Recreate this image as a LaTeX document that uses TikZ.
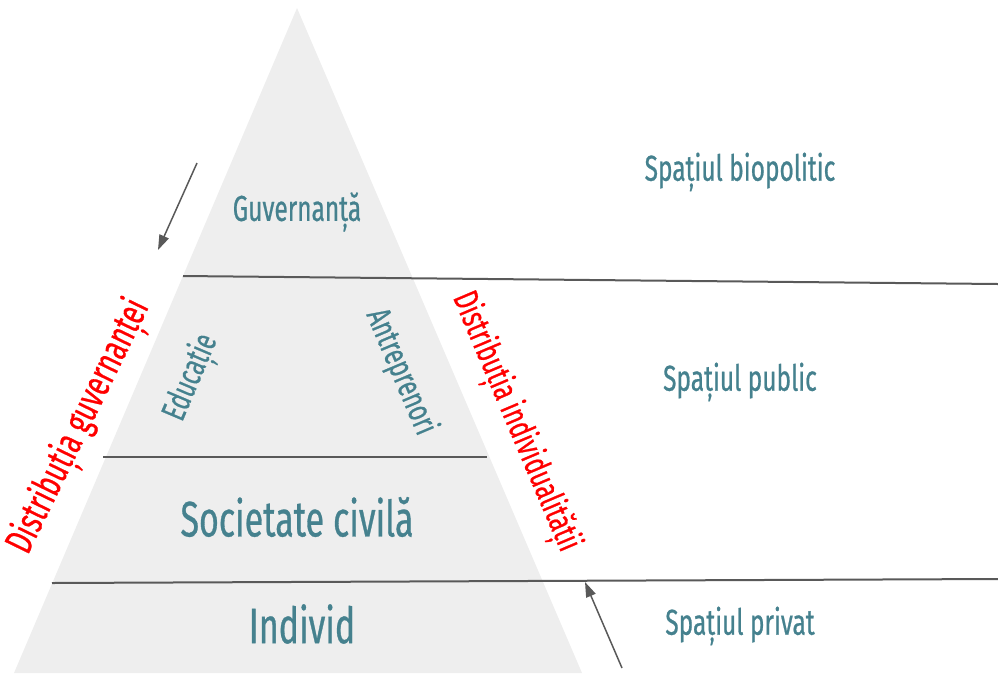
\documentclass[tikz,border=0pt]{standalone}
\usepackage{fontspec}
\usetikzlibrary{arrows.meta}
\setmainfont{Fira Sans}[FakeStretch=0.68, FakeBold=0.6]
\definecolor{textalbastru}{HTML}{45818E}
\definecolor{fundalgri}{HTML}{EEEEEE}
\definecolor{liniegri}{HTML}{595959}

\newcommand\piramida {
  \fill[fundalgri] (297, 8) -- (14, 673) -- (582, 673) -- cycle ;
  \coordinate (nivelA) at (183, 276) ;
  \coordinate (nivelAd) at (998, 284) ;
  \coordinate (nivelB) at (103, 457) ;
  \coordinate (nivelBd) at (487, 457) ;
  \coordinate (nivelC) at (52, 583) ;
  \coordinate (nivelCd) at (998, 579) ;
}

\tikzset{
  eticheta/.style={text=textalbastru, inner sep=0pt},
  distributie/.style={text=red, inner sep=0pt},
  separator/.style={liniegri, line width=2pt},
}

\begin{document}
\begin{tikzpicture}[>={Stealth[length=15pt, width=10pt, inset=0pt]}, x=1pt, y=-1pt]
  \useasboundingbox (0, 0) rectangle (998, 673) ;
  \piramida
  \draw[separator] (nivelA) -- (nivelAd) ;
  \draw[separator] (nivelB) -- (nivelBd) ;
  \draw[separator] (nivelC) -- (nivelCd) ;

  \node[eticheta] (guvernanta) at (297, 212) {\fontsize{36}{40}\selectfont Guvernanță} ;
  \node[eticheta, rotate=67] (educatie) at (192, 378) {\fontsize{34}{40}\selectfont Educație} ;
  \node[eticheta, rotate=-67] (antreprenori) at (401, 372) {\fontsize{34}{40}\selectfont Antreprenori} ;
  \node[eticheta] (societate) at (297, 517) {\fontsize{50}{54}\selectfont Societate civilă} ;
  \node[eticheta] (individ) at (302, 624) {\fontsize{50}{54}\selectfont Individ} ;

  \node[eticheta] (biopolitic) at (740, 172) {\fontsize{36}{40}\selectfont Spațiul biopolitic} ;
  \node[eticheta] (public) at (740, 382) {\fontsize{36}{40}\selectfont Spațiul public} ;
  \node[eticheta] (privat) at (740, 626) {\fontsize{36}{40}\selectfont Spațiul privat} ;

  \node[distributie, rotate=64] (distguv) at (80, 427) {\fontsize{39}{40}\selectfont Distribuția guvernanței} ;
  \node[distributie, rotate=-67] (distind) at (515, 422) {\fontsize{35}{40}\selectfont Distribuția individualității} ;

  % sagetile
  \coordinate (susA) at (197, 163) ;
  \coordinate (josA) at (158, 250) ;
  \coordinate (josB) at (622, 668) ;
  \coordinate (susB) at (585, 582) ;
  \draw[->, liniegri, line width=1.5pt] (susA) -- (josA) ;
  \draw[->, liniegri, line width=1.5pt] (josB) -- (susB) ;
\end{tikzpicture}
\end{document}
